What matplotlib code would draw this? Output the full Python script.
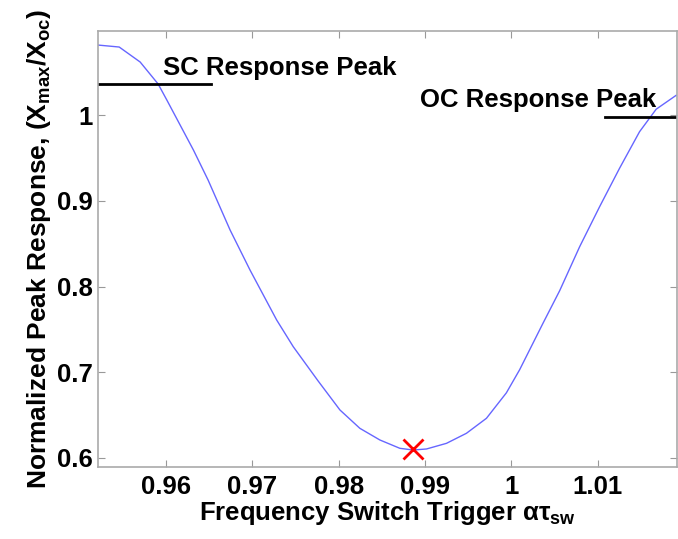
import matplotlib
matplotlib.use('Agg')
import matplotlib.pyplot as plt

plt.rcParams['font.family'] = 'Liberation Sans'
plt.rcParams['font.weight'] = 'bold'
plt.rcParams['mathtext.fontset'] = 'custom'
plt.rcParams['mathtext.rm'] = 'Liberation Sans:bold'
plt.rcParams['mathtext.it'] = 'Liberation Sans:bold'
plt.rcParams['mathtext.bf'] = 'Liberation Sans:bold'

# curve
trigger = [0.9521, 0.95456, 0.95699, 0.95907, 0.96008, 0.96316, 0.96486, 0.96741,
           0.96972, 0.97281, 0.97473, 0.9776, 0.98014, 0.98245, 0.98477, 0.98708,
           0.98862, 0.99017, 0.99249, 0.99480, 0.99712, 0.99943, 1.00097, 1.00367,
           1.00560, 1.00792, 1.01023, 1.01255, 1.01486, 1.01679, 1.01911]
peak = [1.0816, 1.0793, 1.0618, 1.0362, 1.0175, 0.9592, 0.9242, 0.8659,
        0.8192, 0.7609, 0.7298, 0.690, 0.6560, 0.6346, 0.6210, 0.6113,
        0.6093, 0.6105, 0.6171, 0.6288, 0.6463, 0.6760, 0.7030, 0.7571,
        0.7950, 0.8464, 0.8930, 0.9380, 0.9805, 1.0068, 1.0230]

min_x, min_y = 0.98859, 0.6105

sc_line_x = [0.9521, 0.9652]
sc_line_y = [1.036, 1.036]
oc_line_x = [1.0109, 1.0192]
oc_line_y = [0.998, 0.998]

xticks = [0.96, 0.97, 0.98, 0.99, 1.0, 1.01]
xtick_labels = ['0.96', '0.97', '0.98', '0.99', '1', '1.01']
yticks = [0.6, 0.7, 0.8, 0.9, 1.0]
ytick_labels = ['0.6', '0.7', '0.8', '0.9', '1']

fig = plt.figure(figsize=(6.78, 5.39), dpi=100)
ax = fig.add_axes([0.1445, 0.1336, 0.854, 0.8089])

ax.plot(trigger, peak, color=(0.4, 0.4, 1.0), linewidth=1)
ax.plot(sc_line_x, sc_line_y, color='k', linewidth=2)
ax.plot(oc_line_x, oc_line_y, color='k', linewidth=2)
ax.plot(min_x, min_y, marker='x', color='red', markersize=14, markeredgewidth=2)

ax.text(0.9596, 1.055, 'SC Response Peak', fontsize=18.5, fontweight='bold', va='center')
ax.text(0.9894, 1.0175, 'OC Response Peak', fontsize=18.5, fontweight='bold', va='center')

ax.set_xlim(0.9521, 1.0192)
ax.set_ylim(0.5895, 1.098)
ax.set_xticks(xticks)
ax.set_xticklabels(xtick_labels, fontsize=18.5, fontweight='bold')
ax.set_yticks(yticks)
ax.set_yticklabels(ytick_labels, fontsize=18.5, fontweight='bold')
ax.tick_params(direction='in', top=True, right=True, color='#999999', length=5)
ax.tick_params(axis='x', pad=6)
for s in ax.spines.values():
    s.set_color('#aaaaaa')
    s.set_linewidth(1.2)

ax.set_xlabel(r'Frequency Switch Trigger ατ$_{sw}$', fontsize=18.5, fontweight='bold', labelpad=0)
ax.set_ylabel(r'Normalized Peak Response, (X$_{max}$/X$_{oc}$)', fontsize=19, fontweight='bold', labelpad=3)

fig.savefig('out.png', dpi=100)
